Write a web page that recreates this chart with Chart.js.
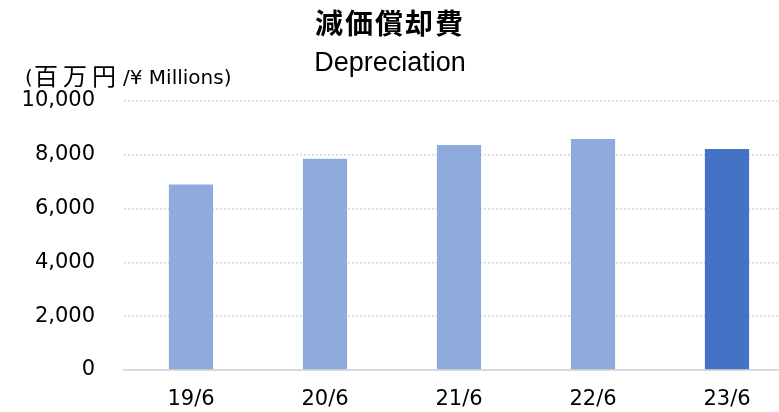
<!DOCTYPE html>
<html>
<head>
<meta charset="utf-8">
<script src="https://cdn.jsdelivr.net/npm/chart.js@4"></script>
<style>
html,body{margin:0;padding:0;background:#fff;overflow:hidden;}
#wrap{width:795px;height:412px;position:relative;}
</style>
</head>
<body>
<div id="wrap"><canvas id="grafico" width="795" height="412"></canvas></div>
<script>
const categorias = ["19/6","20/6","21/6","22/6","23/6"];
const valores = [6900, 7850, 8360, 8590, 8220];
const cores = ["#8FAADC","#8FAADC","#8FAADC","#8FAADC","#4472C4"];
const yTicks = [0, 2000, 4000, 6000, 8000, 10000];

const titulo = "減価償却費";
const subtitulo = "Depreciation";
const unidade = ["(", "百万円", "/¥ Millions)"];

// titulos e unidade desenhados direto no canvas
const textos = {
  id: "textos",
  afterDraw(chart){
    const c = chart.ctx;
    c.save();
    c.fillStyle = "#000";
    c.textBaseline = "alphabetic";

    c.textAlign = "center";
    c.font = "bold 28px 'Noto Sans CJK JP'";
    c.letterSpacing = "2px";
    c.fillText(titulo, 390, 34);

    c.letterSpacing = "0px";
    c.font = "27px 'Liberation Sans'";
    c.fillText(subtitulo, 390, 71);

    c.textAlign = "left";
    c.font = "20px 'DejaVu Sans'";
    c.fillText(unidade[0], 25, 84);
    c.font = "24px 'Noto Sans CJK JP'";
    c.letterSpacing = "5px";
    c.fillText(unidade[1], 34, 85);
    c.letterSpacing = "0px";
    c.font = "20px 'DejaVu Sans'";
    c.fillText(unidade[2], 123, 84);
    c.restore();
  }
};

const ctx = document.getElementById("grafico");

new Chart(ctx, {
  type: "bar",
  data: {
    labels: categorias,
    datasets: [{
      data: valores,
      backgroundColor: cores,
      categoryPercentage: 1,
      barPercentage: 0.33
    }]
  },
  options: {
    responsive: false,
    animation: false,
    devicePixelRatio: 1,
    layout: { padding: { top: 101, right: 1, left: 0, bottom: 0 } },
    plugins: {
      legend: { display: false },
      tooltip: { enabled: false },
      title: { display: false }
    },
    scales: {
      x: {
        grid: { display: false, drawTicks: false },
        border: { display: true, color: "#d9d9d9", width: 2 },
        ticks: {
          color: "#000",
          padding: 17,
          font: { family: "'DejaVu Sans'", size: 21 },
          maxRotation: 0
        },
        afterFit(s){ s.height = 42; }
      },
      y: {
        min: 0,
        max: 10000,
        afterBuildTicks(s){ s.ticks = yTicks.map(v => ({ value: v })); },
        grid: { color: "#d6d6d6", lineWidth: 1.5, drawTicks: false },
        border: { display: false, dash: [2, 2] },
        ticks: {
          color: "#000",
          padding: 29,
          font: { family: "'DejaVu Sans'", size: 21 },
          callback: v => v.toLocaleString("en-US")
        },
        afterFit(s){ s.width = 124; }
      }
    }
  },
  plugins: [textos]
});
</script>
</body>
</html>
